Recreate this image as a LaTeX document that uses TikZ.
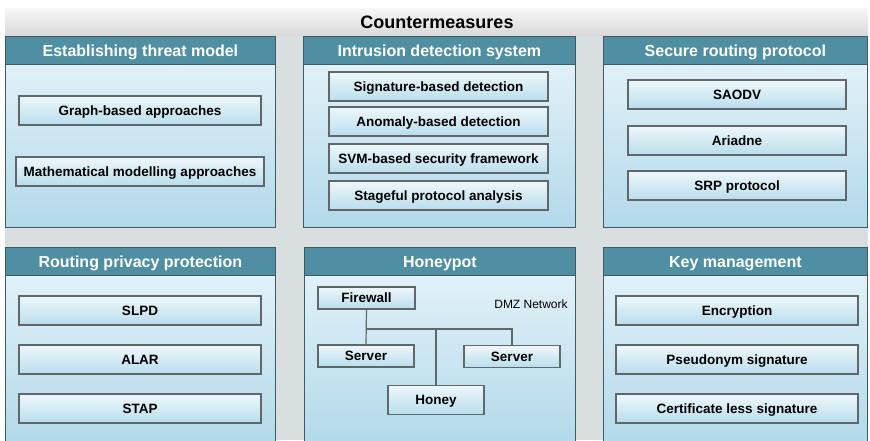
\documentclass[tikz,border=0pt]{standalone}
\usepackage{fontspec}
\setmainfont{Liberation Sans}
\usetikzlibrary{positioning}
\definecolor{cmteal}{HTML}{4F8FA1}
\definecolor{cmedge}{HTML}{3E5A64}
\definecolor{cmline}{HTML}{5F676B}
\definecolor{cmgray}{HTML}{D9DEE1}
\definecolor{cmpaneltop}{HTML}{E9F5FA}
\definecolor{cmpanelbot}{HTML}{B2D9EA}
\definecolor{cmitemtop}{HTML}{EEF7FB}
\definecolor{cmitembot}{HTML}{B9DDEC}
\tikzset{
  cmback/.style={fill=cmgray,draw=none},
  cmband/.style={top color=gray!6,bottom color=gray!30,draw=none},
  cmpanel/.style={top color=cmpaneltop,bottom color=cmpanelbot,draw=cmedge,line width=0.8pt},
  cmtitle/.style={fill=cmteal,draw=cmedge,line width=0.8pt,text=white,anchor=north west,
    inner sep=0pt,minimum height=28,text height=11.5pt,text depth=0pt,
    font=\fontsize{16}{18}\selectfont\bfseries},
  cmitem/.style={top color=cmitemtop,bottom color=cmitembot,draw=cmline,line width=1.1pt,
    inner sep=0pt,minimum height=29,text height=9.7pt,text depth=0pt,
    font=\fontsize{13.5}{15}\selectfont\bfseries},
  cmlink/.style={draw=cmline,line width=1.2pt},
  every picture/.style={font=\small}
}

\begin{document}
\begin{tikzpicture}[x=1pt,y=-1pt]
  \useasboundingbox (0,0) rectangle (870,440);
  \path[cmback] (5,8) rectangle (868,440);
  \path[cmband] (5,8) rectangle (868,35);
  \node[font=\fontsize{18}{20}\selectfont\bfseries,text height=13pt,text depth=0pt]
    (cm) at (437,22) {Countermeasures};

  % panels
  \path[cmpanel] (5,36) rectangle (275,227);
  \path[cmpanel] (303,36) rectangle (575,227);
  \path[cmpanel] (603,36) rectangle (867,227);
  \path[cmpanel] (5,247) rectangle (275,442);
  \path[cmpanel] (304,247) rectangle (575,442);
  \path[cmpanel] (603,247) rectangle (867,442);
  \node[cmtitle,minimum width=270] (threat) at (5,36) {Establishing threat model};
  \node[cmtitle,minimum width=272] (ids) at (303,36) {Intrusion detection system};
  \node[cmtitle,minimum width=264] (srp) at (603,36) {Secure routing protocol};
  \node[cmtitle,minimum width=270] (privacy) at (5,247) {Routing privacy protection};
  \node[cmtitle,minimum width=271] (honeypot) at (304,247) {Honeypot};
  \node[cmtitle,minimum width=264] (keymgmt) at (603,247) {Key management};

  % establishing threat model
  \node[cmitem,minimum width=242] (graph) at (140,110.5) {Graph-based approaches};
  \node[cmitem,minimum width=248] (math) at (140,171.5) {Mathematical modelling approaches};

  % intrusion detection system
  \node[cmitem,minimum width=219] (sig) at (438.5,86.5) {Signature-based detection};
  \node[cmitem,minimum width=219] (anom) at (438.5,121.5) {Anomaly-based detection};
  \node[cmitem,minimum width=219] (svm) at (438.5,158.5) {SVM-based security framework};
  \node[cmitem,minimum width=219] (stage) at (438.5,195.5) {Stageful protocol analysis};

  % secure routing protocol
  \node[cmitem,minimum width=218] (saodv) at (737,94.5) {SAODV};
  \node[cmitem,minimum width=218] (ariadne) at (737,140.5) {Ariadne};
  \node[cmitem,minimum width=218] (srpp) at (737,185.5) {SRP protocol};

  % routing privacy protection
  \node[cmitem,minimum width=242] (slpd) at (140,310.5) {SLPD};
  \node[cmitem,minimum width=242] (alar) at (140,359.5) {ALAR};
  \node[cmitem,minimum width=242] (stap) at (140,408.5) {STAP};

  % key management
  \node[cmitem,minimum width=242] (enc) at (737,310.5) {Encryption};
  \node[cmitem,minimum width=242] (pseudo) at (737,359.5) {Pseudonym signature};
  \node[cmitem,minimum width=242] (certless) at (737,408.5) {Certificate less signature};

  % honeypot
  \node[cmitem,minimum width=97,minimum height=22] (fw) at (366.5,298) {Firewall};
  \node[cmitem,minimum width=96,minimum height=22] (srvl) at (366,356) {Server};
  \node[cmitem,minimum width=96,minimum height=22] (srvr) at (512,356.5) {Server};
  \node[cmitem,minimum width=96] (honey) at (436,400) {Honey};
  \node[font=\fontsize{12}{14}\selectfont] (dmz) at (531,304) {DMZ Network};
  \coordinate (busl) at (366.5,329);
  \coordinate (busr) at (512,329);
  \draw[cmlink] (fw.south) -- (srvl.north);
  \draw[cmlink] (busl) -- (busr) -- (srvr.north);
  \draw[cmlink] (honey.north) -- (honey.north |- busl);
\end{tikzpicture}
\end{document}
